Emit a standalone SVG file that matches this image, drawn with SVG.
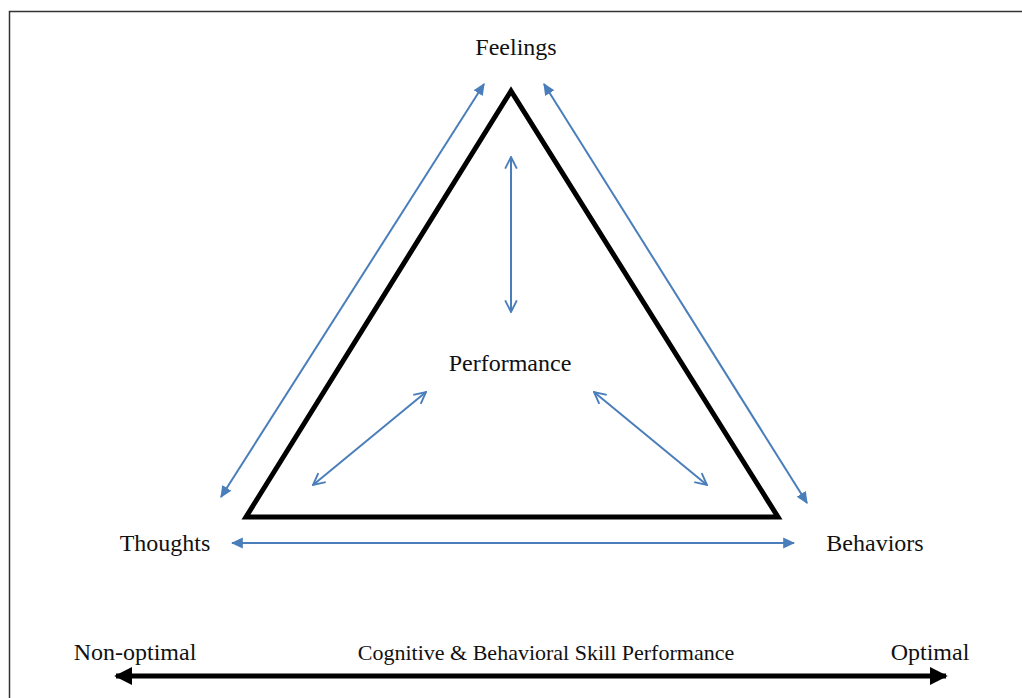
<svg xmlns="http://www.w3.org/2000/svg" width="1022" height="698" viewBox="0 0 1022 698">
<defs>
<marker id="bf" viewBox="0 0 10 10" refX="9" refY="5" markerWidth="6" markerHeight="6" orient="auto-start-reverse" markerUnits="strokeWidth"><path d="M0,0.5 L10,5 L0,9.5 z" fill="#4a7ebb"/></marker>
<marker id="bo" viewBox="0 0 12 12" refX="11" refY="6" markerWidth="7" markerHeight="7" orient="auto-start-reverse" markerUnits="strokeWidth"><path d="M1,1 L11,6 L1,11" fill="none" stroke="#4a7ebb" stroke-width="1.6"/></marker>
<marker id="kf" viewBox="0 0 10 10" refX="9" refY="5" markerWidth="3.6" markerHeight="3.6" orient="auto-start-reverse" markerUnits="strokeWidth"><path d="M0,0 L10,5 L0,10 z" fill="#000"/></marker>
</defs>
<style>
.t{font-family:"Liberation Serif",serif;font-size:24px;fill:#111;text-anchor:middle}
.s{font-size:22px}
.b{stroke:#4a7ebb;stroke-width:2;fill:none}
</style>
<rect x="0" y="0" width="1022" height="698" fill="#fff"/>
<path d="M9.5,698 V11.5 H1022" fill="none" stroke="#333" stroke-width="1.5"/>
<g id="triangle"><polygon points="511,91 246,517 778,517" fill="none" stroke="#000" stroke-width="5" stroke-linejoin="miter"/></g>
<g id="feelings"><text class="t" x="516" y="55">Feelings</text></g>
<g id="performance"><text class="t" x="510" y="371">Performance</text></g>
<g id="thoughts"><text class="t" x="165" y="551">Thoughts</text></g>
<g id="behaviors"><text class="t" x="875" y="551">Behaviors</text></g>
<g id="scale">
<text class="t" x="135" y="660">Non-optimal</text>
<text class="t" x="930" y="660">Optimal</text>
<text class="t s" x="546" y="660">Cognitive &amp; Behavioral Skill Performance</text>
</g>
<g id="connectors">
<line class="b" x1="221" y1="497" x2="484" y2="84" marker-start="url(#bf)" marker-end="url(#bf)"/>
<line class="b" x1="544" y1="84" x2="807" y2="503" marker-start="url(#bf)" marker-end="url(#bf)"/>
<line class="b" x1="232" y1="543" x2="794" y2="543" marker-start="url(#bf)" marker-end="url(#bf)"/>
<line class="b" x1="511" y1="157" x2="511" y2="312" marker-start="url(#bo)" marker-end="url(#bo)"/>
<line class="b" x1="426" y1="392" x2="313" y2="485" marker-start="url(#bo)" marker-end="url(#bo)"/>
<line class="b" x1="594" y1="392" x2="707" y2="485" marker-start="url(#bo)" marker-end="url(#bo)"/>
<line x1="116" y1="676" x2="946" y2="676" stroke="#000" stroke-width="5" marker-start="url(#kf)" marker-end="url(#kf)"/>
</g>
</svg>
